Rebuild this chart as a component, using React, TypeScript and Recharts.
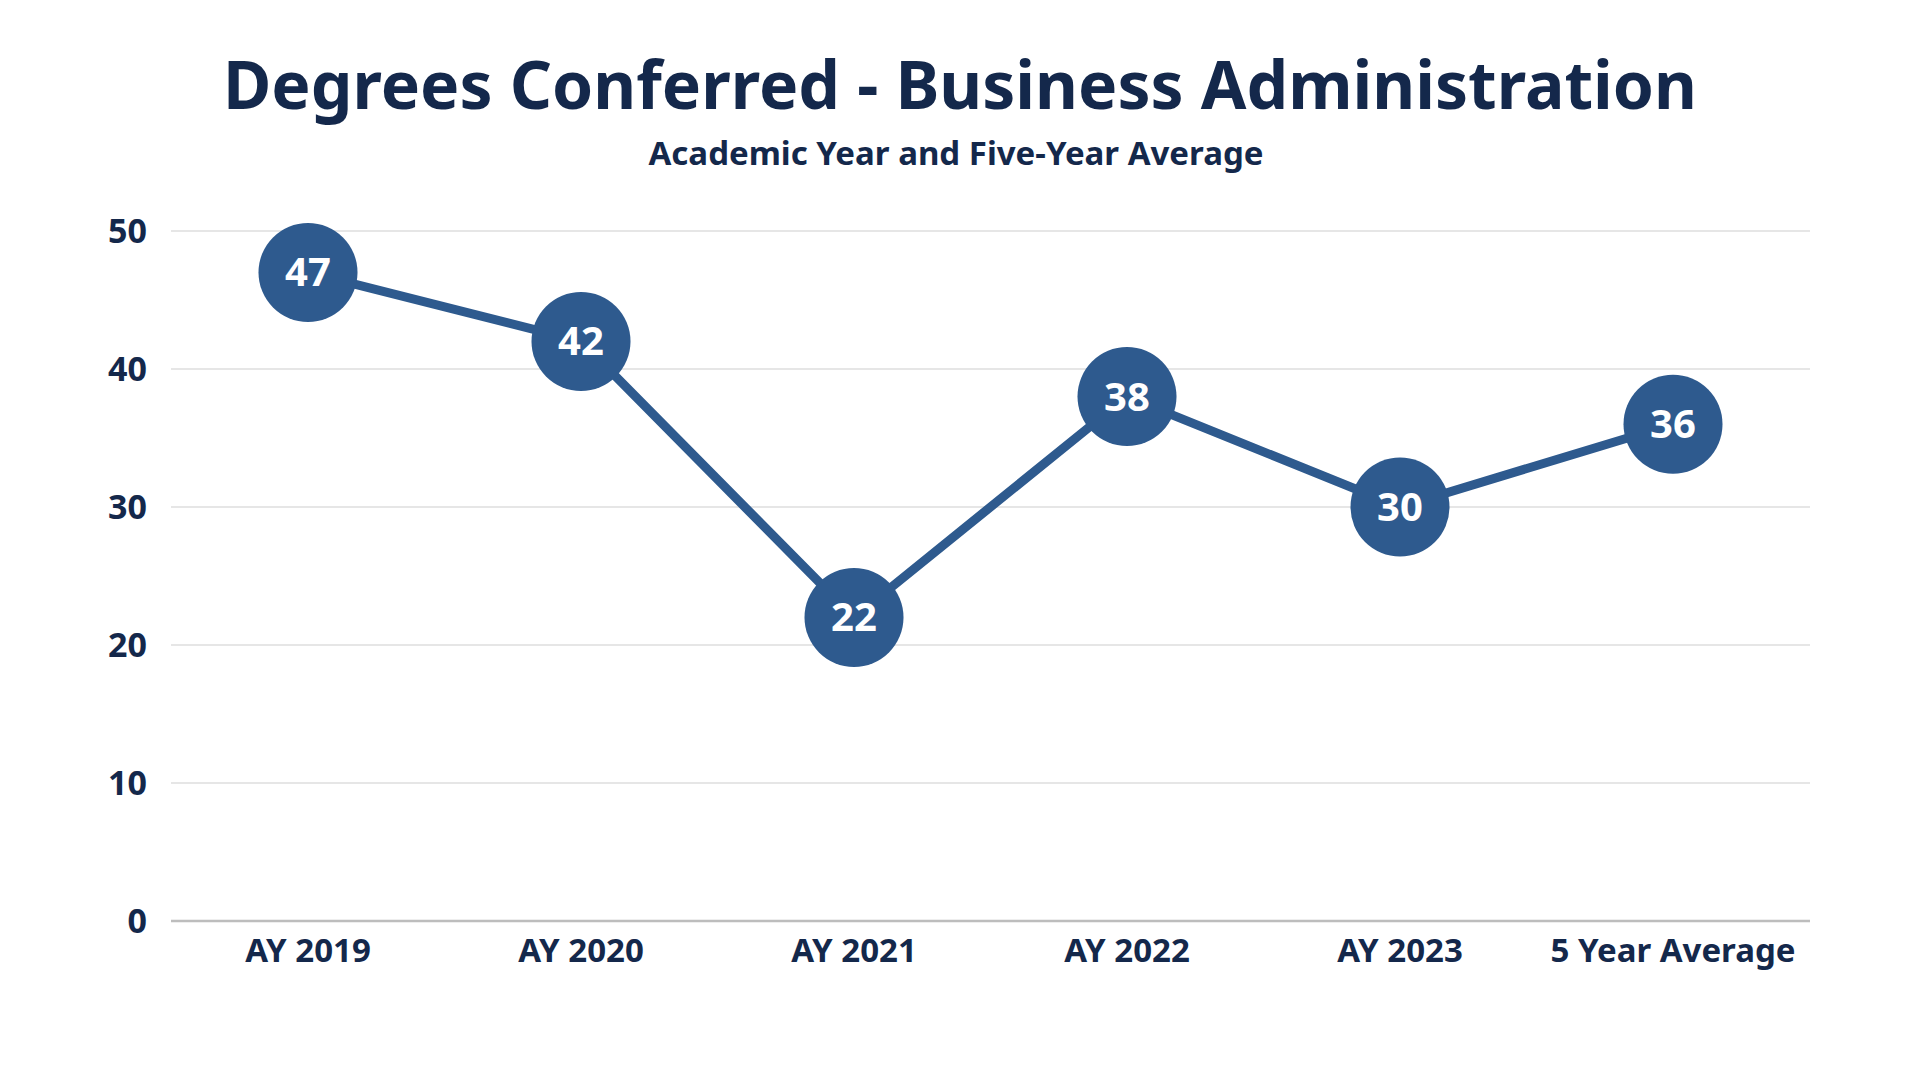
import { CartesianGrid, Line, LineChart, XAxis, YAxis } from 'recharts';

const categories = ['AY 2019', 'AY 2020', 'AY 2021', 'AY 2022', 'AY 2023', '5 Year Average'];
const degrees = [47, 42, 22, 38, 30, 36];
const yTicks = [0, 10, 20, 30, 40, 50];

const data = categories.map((name, i) => ({ name, degrees: degrees[i] }));

const NAVY = '#14284b';
const BLUE = '#2e5a8e';
const FONT = '"Noto Sans", sans-serif';

const XTick = ({ x, y, payload }: any) => (
  <text x={x} y={y} dy={41} textAnchor='middle' fill={NAVY} fontSize={33} fontWeight={700} fontFamily={FONT}>
    {payload.value}
  </text>
);

const YTick = ({ x, y, payload }: any) => (
  <text x={x} y={y} dx={-24} dy={12} textAnchor='end' fill={NAVY} fontSize={34} fontWeight={700} fontFamily={FONT}>
    {payload.value}
  </text>
);

const Dot = ({ cx, cy, value, index }: any) => (
  <g key={index}>
    <circle cx={cx} cy={cy} r={49.5} fill={BLUE} />
    <text x={cx} y={cy} dy={14} textAnchor='middle' fill='#ffffff' fontSize={40} fontWeight={700} fontFamily={FONT}>
      {value}
    </text>
  </g>
);

const App = () => (
  <div style={{ position: 'absolute', left: 0, top: 0, width: 1920, height: 1080, background: '#fff' }}>
    <LineChart width={1920} height={1080} data={data} margin={{ top: 231, right: 110, bottom: 99, left: 111 }}>
      <CartesianGrid vertical={false} stroke='#dedede' strokeWidth={1.5} />
      <XAxis
        dataKey='name'
        height={60}
        padding={{ left: 137, right: 137 }}
        tickSize={0}
        tickMargin={0}
        tickLine={false}
        axisLine={{ stroke: '#bdbdbd', strokeWidth: 2.5 }}
        tick={<XTick />}
        interval={0}
      />
      <YAxis
        width={60}
        domain={[0, 50]}
        ticks={yTicks}
        tickSize={0}
        tickMargin={0}
        tickLine={false}
        axisLine={false}
        tick={<YTick />}
      />
      <Line
        type='linear'
        dataKey='degrees'
        stroke={BLUE}
        strokeWidth={9}
        dot={<Dot />}
        activeDot={false}
        isAnimationActive={false}
      />
    </LineChart>
    <svg width={1920} height={200} style={{ position: 'absolute', left: 0, top: 0, pointerEvents: 'none' }}>
      <text x={960} y={109} textAnchor='middle' fill={NAVY} fontSize={66} fontWeight={700} fontFamily={FONT}>
        Degrees Conferred - Business Administration
      </text>
      <text x={956} y={165} textAnchor='middle' fill={NAVY} fontSize={33} fontWeight={700} fontFamily={FONT}>
        Academic Year and Five-Year Average
      </text>
    </svg>
  </div>
);

export default App;
